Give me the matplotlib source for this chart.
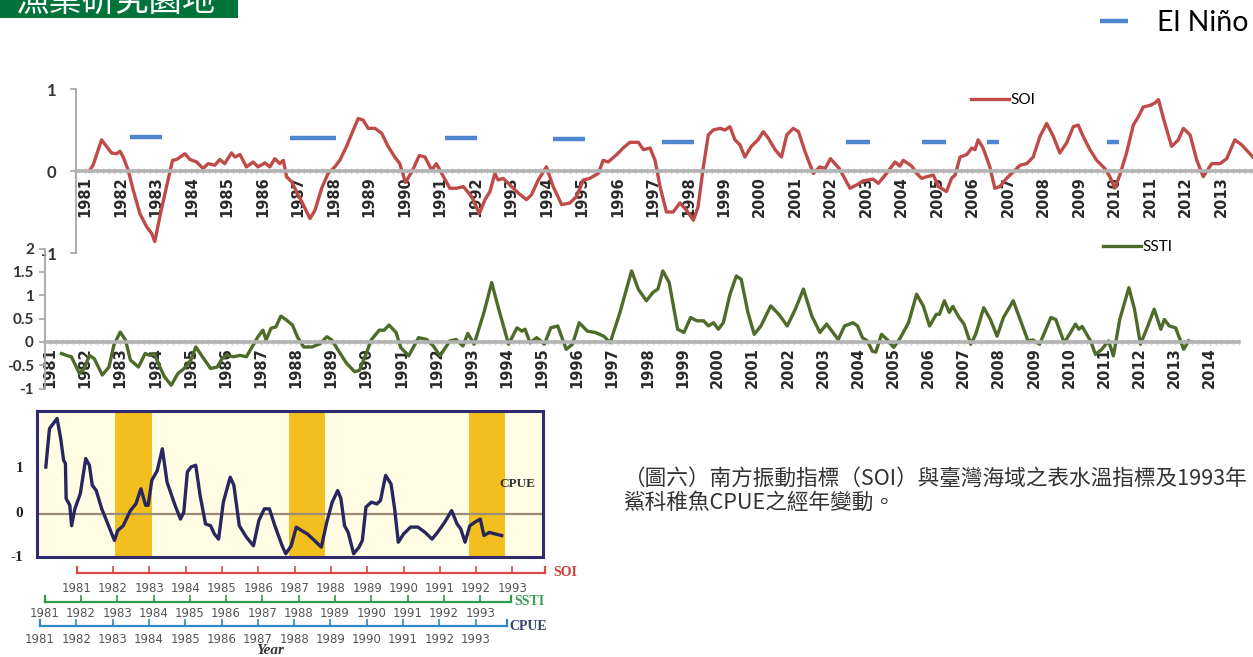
import numpy as np
import matplotlib
matplotlib.use('Agg')
import matplotlib.pyplot as plt
from matplotlib.patches import Rectangle

# 南方振動指標 SOI (讀圖估計)
soi_year = [1981.12, 1981.23, 1981.47, 1981.61, 1981.75, 1981.89, 1981.99, 1982.08, 1982.22, 1982.36,
            1982.55, 1982.74, 1982.88, 1982.97, 1983.11, 1983.30, 1983.47, 1983.58, 1983.82, 1983.96,
            1984.15, 1984.33, 1984.47, 1984.66, 1984.80, 1984.94, 1985.13, 1985.23, 1985.37, 1985.55,
            1985.74, 1985.88, 1986.07, 1986.21, 1986.35, 1986.49, 1986.59, 1986.68, 1986.82, 1986.96,
            1987.15, 1987.34, 1987.48, 1987.67, 1987.85, 1988.04, 1988.18, 1988.37, 1988.56, 1988.70,
            1988.84, 1988.98, 1989.17, 1989.36, 1989.54, 1989.73, 1989.87, 1990.03, 1990.22, 1990.42,
            1990.58, 1990.77, 1990.90, 1991.05, 1991.28, 1991.47, 1991.66, 1991.89, 1992.11, 1992.27,
            1992.41, 1992.55, 1992.64, 1992.78, 1992.97, 1993.21, 1993.44, 1993.58, 1993.77, 1994.00,
            1994.19, 1994.43, 1994.66, 1994.85, 1995.04, 1995.22, 1995.46, 1995.60, 1995.74, 1995.98,
            1996.16, 1996.35, 1996.59, 1996.73, 1996.92, 1997.06, 1997.20, 1997.38, 1997.57, 1997.76,
            1997.95, 1998.14, 1998.27, 1998.42, 1998.56, 1998.70, 1998.89, 1999.03, 1999.17, 1999.31,
            1999.45, 1999.59, 1999.77, 1999.96, 2000.11, 2000.25, 2000.44, 2000.62, 2000.77, 2000.95,
            2001.10, 2001.28, 2001.52, 2001.70, 2001.85, 2002.00, 2002.25, 2002.55, 2002.74, 2002.92,
            2003.20, 2003.35, 2003.58, 2003.82, 2003.96, 2004.05, 2004.29, 2004.43, 2004.57, 2004.71,
            2004.90, 2005.04, 2005.27, 2005.41, 2005.51, 2005.65, 2005.84, 2005.98, 2006.07, 2006.16,
            2006.30, 2006.49, 2006.63, 2006.77, 2006.96, 2007.15, 2007.34, 2007.53, 2007.71, 2007.90,
            2008.09, 2008.28, 2008.46, 2008.65, 2008.84, 2008.98, 2009.12, 2009.31, 2009.50, 2009.73,
            2009.87, 2010.01, 2010.15, 2010.34, 2010.53, 2010.67, 2010.81, 2011.00, 2011.14, 2011.24,
            2011.38, 2011.61, 2011.80, 2011.94, 2012.13, 2012.32, 2012.50, 2012.74, 2012.97, 2013.16,
            2013.39, 2013.58, 2013.90]
soi_val = [0.00, 0.07, 0.38, 0.30, 0.22, 0.21, 0.24, 0.17, 0.01, -0.23,
           -0.52, -0.68, -0.76, -0.86, -0.56, -0.19, 0.13, 0.14, 0.21, 0.14,
           0.11, 0.03, 0.09, 0.07, 0.14, 0.09, 0.22, 0.17, 0.20, 0.05,
           0.11, 0.05, 0.10, 0.05, 0.15, 0.09, 0.13, -0.07, -0.13, -0.25,
           -0.41, -0.58, -0.48, -0.21, -0.03, 0.05, 0.13, 0.30, 0.50, 0.64,
           0.62, 0.52, 0.52, 0.46, 0.30, 0.17, 0.09, -0.14, 0.00, 0.19,
           0.17, 0.01, 0.09, -0.03, -0.21, -0.21, -0.19, -0.31, -0.52, -0.35,
           -0.25, -0.03, -0.11, -0.09, -0.17, -0.27, -0.35, -0.29, -0.11, 0.05,
           -0.19, -0.41, -0.39, -0.31, -0.11, -0.09, -0.03, 0.13, 0.11, 0.20,
           0.28, 0.35, 0.35, 0.26, 0.28, 0.13, -0.19, -0.50, -0.50, -0.39,
           -0.48, -0.60, -0.44, 0.05, 0.44, 0.50, 0.52, 0.50, 0.54, 0.38,
           0.32, 0.17, 0.30, 0.38, 0.48, 0.40, 0.26, 0.17, 0.44, 0.52,
           0.48, 0.24, -0.03, 0.05, 0.03, 0.15, 0.03, -0.21, -0.17, -0.12,
           -0.10, -0.15, -0.03, 0.11, 0.06, 0.13, 0.06, -0.03, -0.09, -0.07,
           -0.05, -0.19, -0.25, -0.09, -0.05, 0.17, 0.20, 0.28, 0.26, 0.38,
           0.28, 0.05, -0.21, -0.19, -0.09, -0.01, 0.07, 0.09, 0.17, 0.42,
           0.58, 0.42, 0.22, 0.34, 0.54, 0.56, 0.42, 0.26, 0.13, 0.03,
           -0.07, -0.21, -0.05, 0.22, 0.56, 0.66, 0.78, 0.80, 0.83, 0.87,
           0.64, 0.30, 0.38, 0.52, 0.44, 0.13, -0.07, 0.09, 0.09, 0.15,
           0.38, 0.32, 0.17]

# 臺灣海域表水溫指標 SSTI
ssti_year = [1981.33, 1981.47, 1981.61, 1981.70, 1981.84, 1981.98, 1982.12, 1982.26, 1982.49, 1982.68,
             1982.82, 1983.00, 1983.15, 1983.29, 1983.52, 1983.71, 1983.84, 1983.98, 1984.08, 1984.26,
             1984.45, 1984.64, 1984.82, 1985.01, 1985.15, 1985.34, 1985.57, 1985.76, 1985.90, 1986.03,
             1986.22, 1986.41, 1986.59, 1986.78, 1986.92, 1987.06, 1987.15, 1987.29, 1987.43, 1987.57,
             1987.71, 1987.90, 1988.04, 1988.22, 1988.46, 1988.69, 1988.88, 1989.02, 1989.20, 1989.44,
             1989.67, 1989.81, 1990.00, 1990.14, 1990.37, 1990.51, 1990.65, 1990.85, 1990.98, 1991.21,
             1991.49, 1991.72, 1991.91, 1992.10, 1992.38, 1992.56, 1992.75, 1992.89, 1993.07, 1993.35,
             1993.57, 1993.77, 1994.05, 1994.29, 1994.43, 1994.52, 1994.66, 1994.85, 1995.07, 1995.25,
             1995.45, 1995.69, 1995.87, 1996.06, 1996.29, 1996.52, 1996.76, 1996.94, 1997.22, 1997.55,
             1997.74, 1997.97, 1998.16, 1998.30, 1998.44, 1998.62, 1998.86, 1999.04, 1999.23, 1999.41,
             1999.60, 1999.74, 1999.88, 2000.02, 2000.16, 2000.35, 2000.53, 2000.67, 2000.86, 2001.04,
             2001.23, 2001.51, 2001.74, 2001.98, 2002.21, 2002.44, 2002.68, 2002.91, 2003.10, 2003.43,
             2003.61, 2003.85, 2003.98, 2004.12, 2004.26, 2004.40, 2004.50, 2004.66, 2004.82, 2005.01,
             2005.20, 2005.43, 2005.66, 2005.85, 2006.03, 2006.22, 2006.31, 2006.45, 2006.59, 2006.69,
             2006.87, 2007.01, 2007.20, 2007.34, 2007.57, 2007.76, 2007.95, 2008.13, 2008.41, 2008.64,
             2008.83, 2008.97, 2009.16, 2009.34, 2009.48, 2009.62, 2009.86, 2010.04, 2010.18, 2010.28,
             2010.37, 2010.61, 2010.75, 2010.93, 2011.12, 2011.26, 2011.44, 2011.70, 2011.86, 2012.03,
             2012.24, 2012.42, 2012.61, 2012.71, 2012.85, 2013.03, 2013.26, 2013.40]
ssti_val = [-0.25, -0.29, -0.32, -0.46, -0.68, -0.57, -0.29, -0.36, -0.71, -0.54,
            -0.07, 0.21, 0.04, -0.39, -0.54, -0.25, -0.29, -0.25, -0.46, -0.75,
            -0.93, -0.68, -0.57, -0.39, -0.11, -0.32, -0.57, -0.54, -0.36, -0.29,
            -0.32, -0.29, -0.32, -0.07, 0.11, 0.25, 0.04, 0.29, 0.32, 0.55,
            0.48, 0.36, 0.11, -0.11, -0.11, -0.04, 0.11, 0.04, -0.18, -0.46,
            -0.64, -0.61, -0.25, 0.04, 0.25, 0.25, 0.36, 0.20, -0.12, -0.30,
            0.09, 0.05, -0.09, -0.30, 0.02, 0.05, -0.09, 0.18, -0.05, 0.63,
            1.27, 0.70, -0.05, 0.30, 0.23, 0.27, -0.02, 0.09, -0.05, 0.30,
            0.34, -0.16, -0.05, 0.41, 0.23, 0.20, 0.12, -0.02, 0.63, 1.52,
            1.13, 0.88, 1.06, 1.13, 1.52, 1.27, 0.27, 0.20, 0.52, 0.45,
            0.45, 0.34, 0.41, 0.27, 0.41, 1.02, 1.41, 1.34, 0.63, 0.16,
            0.34, 0.77, 0.59, 0.34, 0.70, 1.13, 0.55, 0.20, 0.38, 0.05,
            0.34, 0.41, 0.34, 0.09, 0.02, -0.20, -0.22, 0.16, 0.05, -0.12,
            0.09, 0.41, 1.02, 0.77, 0.34, 0.59, 0.59, 0.88, 0.63, 0.76,
            0.52, 0.38, -0.05, 0.16, 0.73, 0.48, 0.12, 0.52, 0.88, 0.41,
            0.02, 0.04, -0.05, 0.27, 0.52, 0.48, -0.02, 0.20, 0.38, 0.27,
            0.33, 0.02, -0.27, -0.16, 0.02, -0.30, 0.48, 1.16, 0.70, -0.05,
            0.34, 0.70, 0.27, 0.48, 0.34, 0.30, -0.16, 0.02]

# El Niño 期間
nino_start = [1982.27, 1986.77, 1991.14, 1994.18, 1997.25, 2002.44, 2004.58, 2006.40, 2009.79]
nino_end = [1983.17, 1988.07, 1992.04, 1995.08, 1998.15, 2003.11, 2005.25, 2006.75, 2010.13]
nino_level = [0.41, 0.40, 0.40, 0.39, 0.35, 0.35, 0.35, 0.35, 0.35]

# 1993年 稚魚 CPUE
cpue_year = [1981.16, 1981.26, 1981.37, 1981.47, 1981.57, 1981.65, 1981.70, 1981.72, 1981.82, 1981.87,
             1981.96, 1982.11, 1982.26, 1982.36, 1982.44, 1982.55, 1982.70, 1982.85, 1983.05, 1983.14,
             1983.29, 1983.49, 1983.64, 1983.78, 1983.91, 1983.98, 1984.08, 1984.23, 1984.37, 1984.50,
             1984.72, 1984.87, 1984.96, 1985.06, 1985.16, 1985.29, 1985.41, 1985.56, 1985.70, 1985.80,
             1985.92, 1986.05, 1986.24, 1986.34, 1986.49, 1986.69, 1986.88, 1987.03, 1987.18, 1987.32,
             1987.47, 1987.67, 1987.77, 1987.92, 1988.06, 1988.21, 1988.36, 1988.56, 1988.75, 1988.90,
             1989.05, 1989.20, 1989.29, 1989.39, 1989.49, 1989.64, 1989.79, 1989.88, 1989.98, 1990.13,
             1990.28, 1990.38, 1990.52, 1990.67, 1990.77, 1990.87, 1991.02, 1991.21, 1991.41, 1991.61,
             1991.80, 1991.95, 1992.15, 1992.34, 1992.49, 1992.59, 1992.71, 1992.84, 1992.98, 1993.13,
             1993.23, 1993.38, 1993.52, 1993.72]
cpue_val = [1.00, 1.86, 1.98, 2.09, 1.64, 1.15, 1.08, 0.29, 0.14, -0.32,
            0.06, 0.40, 1.19, 1.04, 0.59, 0.47, 0.06, -0.24, -0.65, -0.43,
            -0.32, 0.02, 0.17, 0.51, 0.14, 0.14, 0.70, 0.92, 1.41, 0.66,
            0.14, -0.17, -0.02, 0.89, 1.00, 1.04, 0.36, -0.28, -0.32, -0.50,
            -0.62, 0.21, 0.77, 0.59, -0.32, -0.58, -0.77, -0.20, 0.06, 0.06,
            -0.32, -0.77, -0.95, -0.77, -0.35, -0.43, -0.50, -0.65, -0.80, -0.24,
            0.21, 0.47, 0.29, -0.32, -0.47, -0.95, -0.80, -0.65, 0.10, 0.21,
            0.17, 0.25, 0.81, 0.62, 0.06, -0.69, -0.50, -0.35, -0.35, -0.47,
            -0.62, -0.47, -0.24, 0.02, -0.28, -0.39, -0.69, -0.32, -0.24, -0.17,
            -0.54, -0.47, -0.50, -0.54]
band_start = [1983.07, 1987.85, 1992.81]
band_end = [1984.09, 1988.85, 1993.81]

soi_years = list(range(1981, 2014))
ssti_years = list(range(1981, 2015))
ssti_ticks = [-1, -0.5, 0, 0.5, 1, 1.5, 2]
ssti_ticklabels = ['-1', '-0.5', '0', '0.5', '1', '1.5', '2']
ruler_years = list(range(1981, 1994))
caption = ['（圖六）南方振動指標（SOI）與臺灣海域之表水溫指標及1993年',
           '鯊科稚魚CPUE之經年變動。']
header = '漁業研究園地'

cjk = ['Noto Sans CJK TC', 'DejaVu Sans']
narrow = ['Liberation Sans Narrow', 'DejaVu Sans']
serif = ['Liberation Serif', 'DejaVu Serif']

W, H = 1253, 657
fig = plt.figure(figsize=(W / 100, H / 100), dpi=100)


def px_box(l, t, r, b):
    return [l / W, 1 - b / H, (r - l) / W, (b - t) / H]


def style_excel_axis(ax, years, zero_color='#b3b3b3'):
    ax.patch.set_alpha(0)
    ax.spines[['top', 'right']].set_visible(False)
    ax.spines['bottom'].set_position(('data', 0))
    ax.spines['bottom'].set_color(zero_color)
    ax.spines['bottom'].set_linewidth(2.6)
    ax.spines['left'].set_color('#a6a6a6')
    ax.spines['left'].set_linewidth(1.3)
    ax.set_xticks(years)
    ax.set_xticklabels([str(y) for y in years], rotation=90, family=narrow,
                       fontsize=10.5, weight='bold', color='#2a2a2a')
    ax.set_xticks(np.arange(years[0], years[-1] + 1, 1 / 6), minor=True)
    ax.tick_params(axis='x', which='both', direction='inout', length=5,
                   width=1, color='#d6d6d6', pad=1.5)
    ax.tick_params(axis='y', length=4, width=1.2, color='#a6a6a6')


# ---- SOI ----
ax1 = fig.add_axes(px_box(76, 89, 1265, 253))
soi_line, = ax1.plot(soi_year, soi_val, color='#BE4B48', lw=2.4, label='SOI')
nino_lines = []
for s, e, lv in zip(nino_start, nino_end, nino_level):
    ln, = ax1.plot([s, e], [lv, lv], color='#4F86CF', lw=3.2, solid_capstyle='butt')
    nino_lines.append(ln)
ax1.set_xlim(1980.75, 2014.24)
ax1.set_ylim(-1, 1)
style_excel_axis(ax1, soi_years)
ax1.set_yticks([-1, 0, 1])
ax1.set_yticklabels(['-1', '0', '1'], family=['Lato', 'DejaVu Sans'],
                    fontsize=12, weight='bold', color='#333333')
ax1.tick_params(axis='y', pad=10)

# ---- SSTI ----
ax2 = fig.add_axes(px_box(45, 248.5, 1239, 388.5))
ssti_line, = ax2.plot(ssti_year, ssti_val, color='#4E6B2A', lw=2.4, label='SSTI')
ax2.set_xlim(1980.86, 2014.26)
ax2.set_ylim(-1, 2)
style_excel_axis(ax2, ssti_years)
ax2.set_yticks(ssti_ticks)
ax2.set_yticklabels(ssti_ticklabels, family=['Lato', 'DejaVu Sans'],
                    fontsize=11, weight='bold', color='#333333')
ax2.tick_params(axis='y', pad=4)

fig.legend(handles=[soi_line], labels=['SOI'], loc='center left',
           bbox_to_anchor=(971 / W, 1 - 100 / H), frameon=False,
           prop={'family': ['Lato', 'DejaVu Sans'], 'size': 11},
           handlelength=2.5, handletextpad=0.1, borderpad=0, borderaxespad=0)
fig.legend(handles=[ssti_line], labels=['SSTI'], loc='center left',
           bbox_to_anchor=(1103 / W, 1 - 247 / H), frameon=False,
           prop={'family': ['Lato', 'DejaVu Sans'], 'size': 11},
           handlelength=2.5, handletextpad=0.1, borderpad=0, borderaxespad=0)
fig.legend(handles=[nino_lines[0]], labels=['El Niño'], loc='center left',
           bbox_to_anchor=(1100 / W, 1 - 23 / H), frameon=False,
           prop={'family': ['Lato', 'DejaVu Sans'], 'size': 20.5},
           handlelength=1.0, handletextpad=1.0, borderpad=0, borderaxespad=0)

# ---- CPUE ----
ax3 = fig.add_axes(px_box(37, 411, 543, 557))
ax3.set_facecolor('#FFFDE4')
for s, e in zip(band_start, band_end):
    ax3.axvspan(s, e, color='#F2BF1E', lw=0)
ax3.axhline(-0.05, color='#9A8C76', lw=1.6)
ax3.plot(cpue_year, cpue_val, color='#27265F', lw=2.4)
ax3.set_xlim(1980.917, 1994.857)
ax3.set_ylim(-1.022, 2.258)
for sp in ax3.spines.values():
    sp.set_color('#2E2C6E')
    sp.set_linewidth(2.2)
ax3.set_xticks([])
ax3.set_yticks([1, 0, -1])
ax3.set_yticklabels(['1', '0', '-1'], family=serif, weight='bold', fontsize=11,
                    color='#222222')
ax3.tick_params(axis='y', length=0, pad=10)
ax3.text(0.949, 0.5, 'CPUE', transform=ax3.transAxes, ha='center', va='center',
         family=serif, weight='bold', fontsize=9.5, color='#333333')

# 三條年份尺
rulers = [
    # name, line colour, text colour, left px, right px, line y px, label pad, name x px
    ('SOI', '#D94A45', '#D23C37', 76.8, 544.6, 573, 6.5, 553),
    ('SSTI', '#2E9C4B', '#35A057', 44.6, 511.4, 601.7, 3.5, 514),
    ('CPUE', '#3088C9', '#34406E', 40, 507, 626, 5, 509),
]
for name, c, tc, l, r, y, pad, tx in rulers:
    axr = fig.add_axes(px_box(l, y - 6, r, y))
    axr.patch.set_alpha(0)
    axr.set_xlim(1981, 1981 + (r - l) / 36.3)
    axr.set_ylim(0, 1)
    axr.spines['top'].set_visible(False)
    for k in ['bottom', 'left', 'right']:
        axr.spines[k].set_color(c)
        axr.spines[k].set_linewidth(1.6)
    axr.set_yticks([])
    axr.set_xticks(ruler_years)
    axr.set_xticklabels([str(v) for v in ruler_years], family=narrow,
                        fontsize=8.5, color='#555555')
    axr.tick_params(axis='x', direction='in', length=5, width=1.2, color=c, pad=pad)
    fig.text(tx / W, 1 - y / H, name, color=tc, family=serif, weight='bold',
             fontsize=10, va='center', ha='left')

fig.text(270 / W, 1 - 650 / H, 'Year', family=serif, weight='bold', style='italic',
         fontsize=11, ha='center', va='center', color='#333333')

# 說明文字
fig.text(624 / W, 1 - 479 / H, caption[0], family=cjk, fontsize=15.6,
         color='#333333', va='center', ha='left')
fig.text(624 / W, 1 - 503 / H, caption[1], family=cjk, fontsize=15.6,
         color='#333333', va='center', ha='left')

# 左上角綠色標題 (上半被裁切)
fig.add_artist(Rectangle((0, 1 - 18 / H), 238 / W, 18 / H, transform=fig.transFigure,
                         facecolor='#00733B', edgecolor='none'))
fig.text(16 / W, 1 - 11 / H, header, family=cjk, fontsize=24, color='white',
         va='baseline', ha='left')

fig.savefig('out.png', dpi=100)
